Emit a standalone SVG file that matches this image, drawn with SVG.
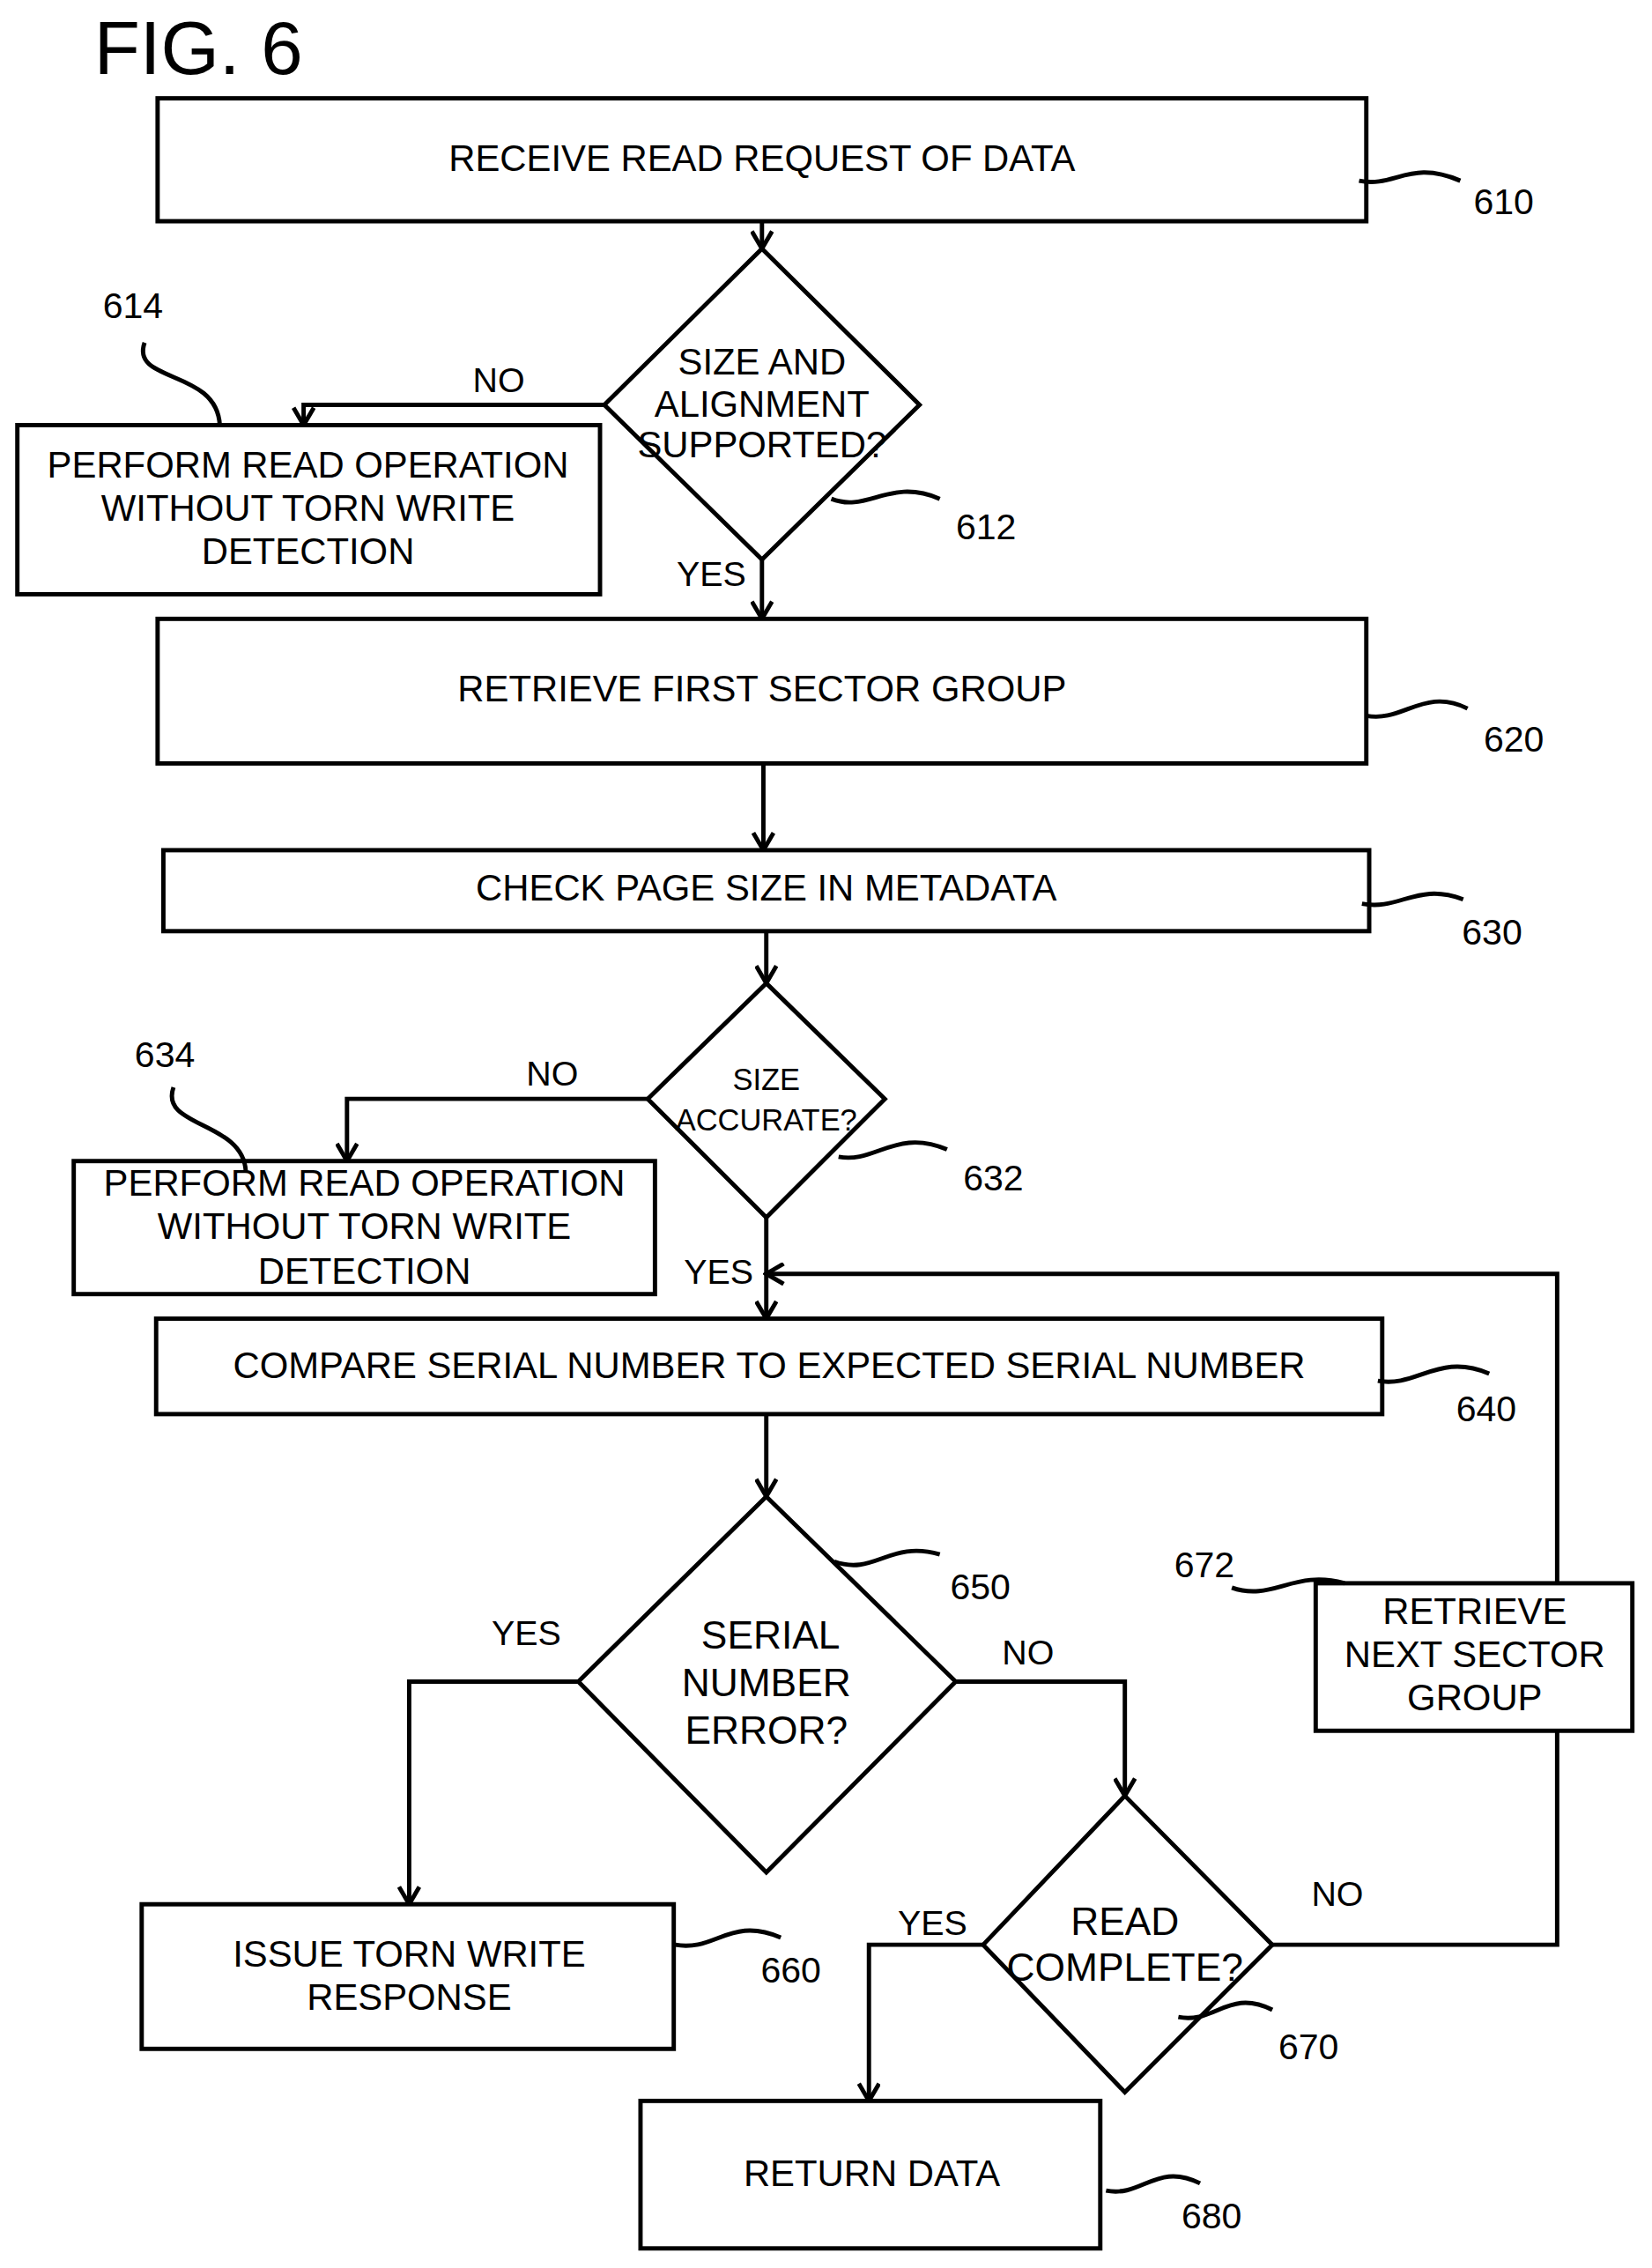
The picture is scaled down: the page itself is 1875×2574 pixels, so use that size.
<svg xmlns="http://www.w3.org/2000/svg" width="1875" height="2574" viewBox="0 0 1875 2574">
<style>
.s{fill:none;stroke:#000;stroke-width:3}
.b{fill:#fff;stroke:#000;stroke-width:3}
text{font-family:"Liberation Sans",Arial,sans-serif;fill:#000;text-anchor:middle}
.t{font-size:25.5px}
.l{font-size:25px}
.q{font-size:24px}
</style>
<defs>
<marker id="a" markerUnits="userSpaceOnUse" markerWidth="16" markerHeight="16" refX="14" refY="8" orient="auto">
<path d="M2,1 L14,8 L2,15" fill="none" stroke="#000" stroke-width="3"/>
</marker>
</defs>
<rect width="1875" height="2574" fill="#fff"/>
<g transform="scale(1.641)">
<text x="65" y="51" font-size="52" style="text-anchor:start">FIG. 6</text>
<g id="connectors" class="s">
<path d="M527,153 V172" marker-end="url(#a)"/>
<path d="M418,280 H210 V294" marker-end="url(#a)"/>
<path d="M527,387 V428" marker-end="url(#a)"/>
<path d="M528,528 V588" marker-end="url(#a)"/>
<path d="M530,644 V680" marker-end="url(#a)"/>
<path d="M448,760 H240 V803" marker-end="url(#a)"/>
<path d="M530,842 V912" marker-end="url(#a)"/>
<path d="M1077,1095 V881 H530" marker-end="url(#a)"/>
<path d="M530,978 V1035" marker-end="url(#a)"/>
<path d="M400,1163 H283 V1317" marker-end="url(#a)"/>
<path d="M661,1163 H778 V1242" marker-end="url(#a)"/>
<path d="M680,1345 H601 V1453" marker-end="url(#a)"/>
<path d="M880,1345 H1077 V1197"/>
<text class="q" x="345" y="271" stroke="none">NO</text>
<text class="q" x="492" y="405" stroke="none">YES</text>
<text class="q" x="382" y="751" stroke="none">NO</text>
<text class="q" x="497" y="888" stroke="none">YES</text>
<text class="q" x="364" y="1138" stroke="none">YES</text>
<text class="q" x="711" y="1151" stroke="none">NO</text>
<text class="q" x="645" y="1338" stroke="none">YES</text>
<text class="q" x="925" y="1318" stroke="none">NO</text>
</g>
<g id="n610"><rect class="b" x="109" y="68" width="836" height="85"/><text class="t" x="527" y="118">RECEIVE READ REQUEST OF DATA</text>
<path class="s" d="M940,125 C965,130 975,110 1010,125"/><text class="l" x="1040" y="148">610</text></g>
<g id="n612"><path class="b" d="M527,172 L636,280 L527,387 L418,280 Z"/><text class="t" x="527" y="259">SIZE AND</text><text class="t" x="527" y="288">ALIGNMENT</text><text class="t" x="527" y="316">SUPPORTED?</text>
<path class="s" d="M575,345 C600,355 615,330 650,345"/><text class="l" x="682" y="373">612</text></g>
<g id="n614"><rect class="b" x="12" y="294" width="403" height="117"/><text class="t" x="213" y="330">PERFORM READ OPERATION</text><text class="t" x="213" y="360">WITHOUT TORN WRITE</text><text class="t" x="213" y="390">DETECTION</text>
<path class="s" d="M100,237 C90,265 150,255 152,294"/><text class="l" x="92" y="220">614</text></g>
<g id="n620"><rect class="b" x="109" y="428" width="836" height="100"/><text class="t" x="527" y="485">RETRIEVE FIRST SECTOR GROUP</text>
<path class="s" d="M945,495 C970,500 985,475 1015,490"/><text class="l" x="1047" y="520">620</text></g>
<g id="n630"><rect class="b" x="113" y="588" width="834" height="56"/><text class="t" x="530" y="623">CHECK PAGE SIZE IN METADATA</text>
<path class="s" d="M942,625 C968,630 980,610 1012,622"/><text class="l" x="1032" y="653">630</text></g>
<g id="n632"><path class="b" d="M530,680 L612,760 L530,842 L448,760 Z"/><text font-size="21" x="530" y="754">SIZE</text><text font-size="21" x="530" y="782">ACCURATE?</text>
<path class="s" d="M580,800 C605,805 620,780 655,795"/><text class="l" x="687" y="823">632</text></g>
<g id="n634"><rect class="b" x="51" y="803" width="402" height="92"/><text class="t" x="252" y="827">PERFORM READ OPERATION</text><text class="t" x="252" y="857">WITHOUT TORN WRITE</text><text class="t" x="252" y="888">DETECTION</text>
<path class="s" d="M120,752 C110,780 168,775 170,810"/><text class="l" x="114" y="738">634</text></g>
<g id="n640"><rect class="b" x="108" y="912" width="848" height="66"/><text class="t" x="532" y="953">COMPARE SERIAL NUMBER TO EXPECTED SERIAL NUMBER</text>
<path class="s" d="M953,955 C980,960 995,935 1030,950"/><text class="l" x="1028" y="983">640</text></g>
<g id="n650"><path class="b" d="M530,1035 L661,1163 L530,1295 L400,1163 Z"/><text font-size="27" x="533" y="1140">SERIAL</text><text font-size="27" x="530" y="1173">NUMBER</text><text font-size="27" x="530" y="1206">ERROR?</text>
<path class="s" d="M577,1080 C605,1090 615,1065 650,1075"/><text class="l" x="678" y="1106">650</text></g>
<g id="n660"><rect class="b" x="98" y="1317" width="368" height="100"/><text class="t" x="283" y="1360">ISSUE TORN WRITE</text><text class="t" x="283" y="1390">RESPONSE</text>
<path class="s" d="M467,1345 C495,1350 505,1325 540,1340"/><text class="l" x="547" y="1371">660</text></g>
<g id="n670"><path class="b" d="M778,1242 L880,1345 L778,1447 L680,1345 Z"/><text font-size="27" x="778" y="1338">READ</text><text font-size="27" x="778" y="1370">COMPLETE?</text>
<path class="s" d="M815,1395 C840,1400 850,1375 880,1390"/><text class="l" x="905" y="1424">670</text></g>
<g id="n672"><rect class="b" x="910" y="1095" width="219" height="102"/><text class="t" x="1020" y="1123">RETRIEVE</text><text class="t" x="1020" y="1153">NEXT SECTOR</text><text class="t" x="1020" y="1183">GROUP</text>
<path class="s" d="M852,1098 C880,1108 895,1085 930,1095"/><text class="l" x="833" y="1091">672</text></g>
<g id="n680"><rect class="b" x="443" y="1453" width="318" height="102"/><text class="t" x="603" y="1512">RETURN DATA</text>
<path class="s" d="M765,1515 C790,1520 800,1495 830,1510"/><text class="l" x="838" y="1541">680</text></g>
</g>
</svg>
